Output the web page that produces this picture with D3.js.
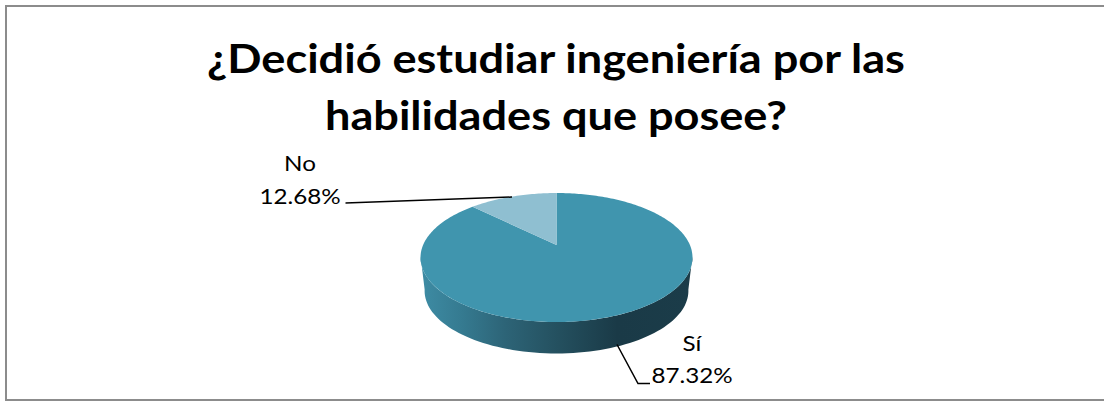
<!DOCTYPE html>
<html>
<head>
<meta charset="utf-8">
<script src="https://cdn.jsdelivr.net/npm/d3@7"></script>
<style>
html,body{margin:0;padding:0;background:#fff;}
svg{display:block;}
</style>
</head>
<body>
<div id="chart"></div>
<script>
const titleLines = ["¿Decidió estudiar ingeniería por las", "habilidades que posee?"];
const categories = ["Sí", "No"];
const shares = [87.32, 12.68];
const sliceColors = ["#4095ae", "#8fbfd1"];

const w = 1104, h = 401;
const svg = d3.select("#chart").append("svg").attr("width", w).attr("height", h);

// side shading of the disc
const grad = svg.append("defs").append("linearGradient").attr("id", "side")
    .attr("gradientUnits", "userSpaceOnUse")
    .attr("x1", 425).attr("x2", 692).attr("y1", 0).attr("y2", 0);
[[0, "#3d8aa2"], [0.14, "#357a90"], [0.3, "#2d6477"], [0.5, "#24505f"], [0.72, "#1a3a47"], [1, "#1b3c49"]]
    .forEach(d => grad.append("stop").attr("offset", d[0]).attr("stop-color", d[1]));

const line = d3.line();

// frame is open on the right, the crop cuts it off there
svg.append("path")
    .attr("d", line([[w, 6], [6, 6], [6, 400], [w, 400]]))
    .attr("fill", "none").attr("stroke", "#8c8c8c").attr("stroke-width", 2);

// reference text is a bit wider than Lato, so stretch it sideways
const stretch = 1.1;
svg.selectAll("text.title").data(titleLines).join("text")
    .attr("class", "title")
    .attr("transform", (d, i) => `translate(556,${73 + i * 57}) scale(${stretch},1)`)
    .attr("text-anchor", "middle")
    .style("font-family", "Lato")
    .style("font-weight", 700)
    .style("font-size", "41px")
    .style("fill", "#000")
    .text(d => d);

// the tilted disc: unit circle -> screen, with a bit of perspective
const cx = 556.5, cy = 245, bx = 133.4, by = 62.07, persp = 0.194;
function project(angle, scale, dy) {
    const X = Math.sin(angle), Y = Math.cos(angle), q = 1 + persp * Y;
    return [cx + scale * bx * X / q, cy + dy + scale * by * Y * -1 / q];
}

const pie = d3.pie().sort(null).value(d => d);
const arcs = pie(shares);

// wall between the top rim and the slightly smaller bottom rim
const lowerScale = 0.97, depth = 33.8;
const wall = d3.range(100, 262, 2).map(a => project(a * Math.PI / 180, 1, 0))
    .concat(d3.range(260, 98, -2).map(a => project(a * Math.PI / 180, lowerScale, depth)));
svg.append("path").attr("d", line(wall) + "Z").attr("fill", "url(#side)");

svg.selectAll("path.slice").data(arcs).join("path")
    .attr("class", "slice")
    .attr("fill", (d, i) => sliceColors[i])
    .attr("d", d => {
        const n = Math.ceil((d.endAngle - d.startAngle) / 0.02);
        const pts = d3.range(n + 1).map(k => project(d.startAngle + (d.endAngle - d.startAngle) * k / n, 1, 0));
        return line([[cx, cy]].concat(pts)) + "Z";
    });

// leader lines
const leaders = [
    [[617, 344.5], [638, 383.5], [650, 383.5]],
    [[345.5, 203], [512, 197]]
];
svg.selectAll("path.leader").data(leaders).join("path")
    .attr("class", "leader")
    .attr("d", d => line(d))
    .attr("fill", "none").attr("stroke", "#000").attr("stroke-width", 1.5);

const labelPos = [692, 300];
const labelY = [[351, 383], [171, 204]];
categories.forEach((c, i) => {
    [c, shares[i].toFixed(2) + "%"].forEach((t, k) => {
        svg.append("text")
            .attr("transform", `translate(${labelPos[i]},${labelY[i][k]}) scale(${stretch},1)`)
            .attr("text-anchor", "middle")
            .style("font-family", "Lato")
            .style("font-size", "22px")
            .style("fill", "#000")
            .text(t);
    });
});
</script>
</body>
</html>
